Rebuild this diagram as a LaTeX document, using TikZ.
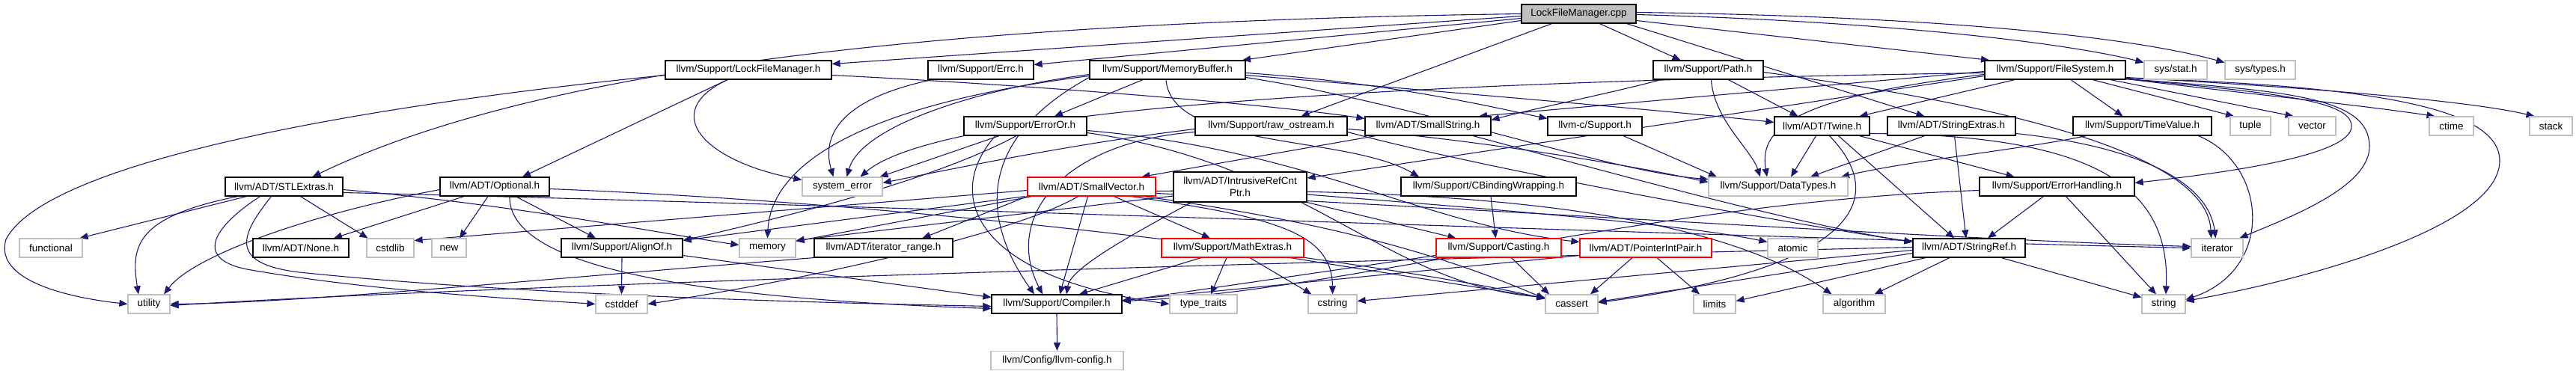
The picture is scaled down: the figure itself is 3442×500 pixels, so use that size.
\documentclass[tikz,border=0pt]{standalone}
\usepackage{fontspec}
\setmainfont{Liberation Sans}
\usetikzlibrary{arrows.meta}
\definecolor{edgec}{HTML}{191970}
\definecolor{greyb}{HTML}{BFBFBF}
\pgfdeclarelayer{bglayer}
\pgfdeclarelayer{edgelayer}
\pgfsetlayers{bglayer,edgelayer,main}
\begin{document}
\begin{tikzpicture}[x=1pt,y=-1pt,
  nb/.style={draw=black, fill=white, line width=1.2pt, inner sep=0pt, minimum height=25pt,
             font=\fontsize{13.5pt}{16pt}\selectfont, align=center},
  gb/.style={nb, draw=greyb},
  rb/.style={nb, draw=red},
  e/.style={draw=edgec, line width=1.1pt, -{Triangle[length=11pt,width=9pt]}}]
\begin{pgfonlayer}{bglayer}
\fill[white] (0,0) rectangle (3442,500);
\end{pgfonlayer}
\useasboundingbox (0,0) rectangle (3442,500);
% row 0
\node[nb, fill=greyb, minimum width=153pt] (cpp) at (2109.5,18.5) {LockFileManager.cpp};
% row 1
\node[nb, minimum width=222pt] (lfmh) at (1000,93.5) {llvm/Support/LockFileManager.h};
\node[nb, minimum width=141pt] (errc) at (1310.5,93.5) {llvm/Support/Errc.h};
\node[nb, minimum width=208pt] (membuf) at (1560,93.5) {llvm/Support/MemoryBuffer.h};
\node[nb, minimum width=147pt] (path) at (2282.5,93.5) {llvm/Support/Path.h};
\node[nb, minimum width=188pt] (fs) at (2746,93.5) {llvm/Support/FileSystem.h};
\node[gb, minimum width=84pt] (sysstat) at (2907,93.5) {sys/stat.h};
\node[gb, minimum width=94pt] (systypes) at (3020,93.5) {sys/types.h};
% row 2
\node[nb, minimum width=164pt] (erroror) at (1370,168.5) {llvm/Support/ErrorOr.h};
\node[nb, minimum width=203pt] (rawos) at (1698.5,168.5) {llvm/Support/raw\_ostream.h};
\node[nb, minimum width=168pt] (smallstr) at (1908,168.5) {llvm/ADT/SmallString.h};
\node[nb, minimum width=126pt] (csupport) at (2131,168.5) {llvm-c/Support.h};
\node[nb, minimum width=127pt] (twine) at (2434.5,168.5) {llvm/ADT/Twine.h};
\node[nb, minimum width=171pt] (strext) at (2607.5,168.5) {llvm/ADT/StringExtras.h};
\node[nb, minimum width=185pt] (timeval) at (2862.5,168.5) {llvm/Support/TimeValue.h};
\node[gb, minimum width=54pt] (tuple) at (3007,168.5) {tuple};
\node[gb, minimum width=63pt] (vector) at (3089.5,168.5) {vector};
\node[gb, minimum width=59pt] (ctime) at (3275.5,168.5) {ctime};
\node[gb, minimum width=57pt] (stack) at (3408.5,168.5) {stack};
% row 3
\node[nb, minimum width=157pt] (stlext) at (379.5,249.5) {llvm/ADT/STLExtras.h};
\node[nb, minimum width=146pt] (optional) at (661,249.5) {llvm/ADT/Optional.h};
\node[gb, minimum width=107pt] (syserr) at (1125.5,249.5) {system\_error};
\node[rb, minimum width=171pt] (smallvec) at (1458.5,249.5) {llvm/ADT/SmallVector.h};
\node[nb, minimum width=178pt, minimum height=40pt] (irc) at (1657,250) {llvm/ADT/IntrusiveRefCnt\\Ptr.h};
\node[nb, minimum width=234pt] (cbind) at (1989,249.5) {llvm/Support/CBindingWrapping.h};
\node[gb, minimum width=186pt] (datatypes) at (2376,249.5) {llvm/Support/DataTypes.h};
\node[nb, minimum width=207pt] (errh) at (2748.5,249.5) {llvm/Support/ErrorHandling.h};
% row 4
\node[gb, minimum width=84pt] (functional) at (68,331.5) {functional};
\node[nb, minimum width=128pt] (none) at (402,331.5) {llvm/ADT/None.h};
\node[gb, minimum width=63pt] (cstdlib) at (521.5,331.5) {cstdlib};
\node[gb, minimum width=46pt] (new) at (600,331.5) {new};
\node[nb, minimum width=162pt] (alignof) at (831,331.5) {llvm/Support/AlignOf.h};
\node[gb, minimum width=75pt] (memory) at (1025.5,331.5) {memory};
\node[nb, minimum width=185pt] (itrange) at (1180.5,331.5) {llvm/ADT/iterator\_range.h};
\node[rb, minimum width=190pt] (mathext) at (1647,331.5) {llvm/Support/MathExtras.h};
\node[rb, minimum width=167pt] (casting) at (2002.5,331.5) {llvm/Support/Casting.h};
\node[rb, minimum width=176pt] (pip) at (2199,331.5) {llvm/ADT/PointerIntPair.h};
\node[gb, minimum width=67pt] (atomic) at (2395.5,331.5) {atomic};
\node[nb, minimum width=150pt] (strref) at (2631,331.5) {llvm/ADT/StringRef.h};
\node[gb, minimum width=69pt] (iterator) at (2962.5,331.5) {iterator};
% row 5
\node[gb, minimum width=56pt] (utility) at (199,406.5) {utility};
\node[gb, minimum width=69pt] (cstddef) at (830.5,406.5) {cstddef};
\node[nb, minimum width=174pt] (compiler) at (1412,406.5) {llvm/Support/Compiler.h};
\node[gb, minimum width=90pt] (typetraits) at (1608,406.5) {type\_traits};
\node[gb, minimum width=65pt] (cstring) at (1780.5,406.5) {cstring};
\node[gb, minimum width=70pt] (cassert) at (2100,406.5) {cassert};
\node[gb, minimum width=56pt] (limits) at (2291,406.5) {limits};
\node[gb, minimum width=83pt] (algorithm) at (2477.5,406.5) {algorithm};
\node[gb, minimum width=58pt] (string) at (2891,406.5) {string};
% row 6
\node[gb, minimum width=177pt] (llvmconfig) at (1412.5,482) {llvm/Config/llvm-config.h};

\begin{pgfonlayer}{edgelayer}
% cpp
\draw[e] (cpp.west) .. controls (1200,30) and (700,100) .. ([xshift=38pt]stlext.north);
\draw[e] ([yshift=-3pt]cpp.west) -- ([yshift=8pt]lfmh.east);
\draw[e] ([yshift=-6pt]cpp.west) -- ([yshift=7pt]errc.east);
\draw[e] ([yshift=-9pt]cpp.west) -- ([xshift=100pt]membuf.north);
\draw[e] ([xshift=-36pt]cpp.south) -- ([xshift=40pt]rawos.north);
\draw[e] ([xshift=28pt]cpp.south) -- ([xshift=-37pt]path.north);
\draw[e] ([xshift=64pt]cpp.south) -- ([xshift=-36pt]strext.north);
\draw[e] ([yshift=-9pt]cpp.east) -- ([xshift=-88pt]fs.north);
\draw[e] ([yshift=-1pt]cpp.east) .. controls (2500,28) and (2750,55) .. ([yshift=10pt]sysstat.west);
\draw[e] ([yshift=2pt]cpp.east) .. controls (2600,22) and (2850,50) .. ([yshift=10pt]systypes.west);
% lfm.h
\draw[e] ([xshift=-28pt]lfmh.south) -- ([xshift=37pt]optional.north);
\draw[e] ([xshift=-28pt]lfmh.south) .. controls (880,150) and (940,215) .. ([yshift=9pt]syserr.west);
\draw[e] ([yshift=-7pt]lfmh.west) .. controls (450,145) and (60,220) .. (8,320) .. controls (-10,380) and (110,400) .. (utility.west);
\draw[e] ([yshift=-7pt]lfmh.east) .. controls (1400,115) and (1700,140) .. ([yshift=10pt]smallstr.west);
% errc
\draw[e] ([xshift=-65pt]errc.south) .. controls (1110,135) and (1100,190) .. ([xshift=-12pt]syserr.north);
% memorybuffer
\draw[e] ([xshift=-33pt]membuf.south) -- ([xshift=39pt]erroror.north);
\draw[e] ([yshift=-6pt]membuf.west) .. controls (1300,120) and (1150,170) .. ([xshift=6pt]syserr.north);
\draw[e] ([yshift=-8pt]membuf.west) .. controls (1150,140) and (1030,220) .. (memory.north);
\draw[e] ([yshift=-10pt]membuf.west) .. controls (1280,200) and (1330,320) .. ([xshift=-30pt]compiler.north);
\draw[e] ([xshift=-2pt]membuf.south) .. controls (1565,200) and (1800,180) .. ([xshift=-93pt]cbind.north);
\draw[e] ([yshift=-4pt]membuf.east) .. controls (1850,110) and (1980,140) .. ([yshift=10pt]csupport.west);
\draw[e] ([yshift=-7pt]membuf.east) .. controls (1900,120) and (2250,150) .. ([yshift=5pt]twine.west);
\draw[e] ([yshift=-10pt]membuf.east) .. controls (1900,140) and (2150,230) .. ([yshift=10pt]datatypes.west);
% path
\draw[e] ([xshift=27pt]path.south) -- ([xshift=-32pt]twine.north);
\draw[e] ([xshift=4pt]path.south) .. controls (2290,160) and (2340,200) .. ([xshift=-24pt]datatypes.north);
\draw[e] ([xshift=-63pt]path.south) .. controls (2150,125) and (2050,145) .. ([yshift=8pt]smallstr.east);
\draw[e] ([yshift=-3pt]path.east) .. controls (2750,150) and (2950,220) .. ([xshift=-8pt]iterator.north);
% filesystem
\draw[e] ([xshift=21pt]fs.south) -- ([xshift=-26pt]timeval.north);
\draw[e] ([xshift=50pt]fs.south) -- ([xshift=-22pt]tuple.north);
\draw[e] ([xshift=74pt]fs.south) -- ([xshift=-25pt]vector.north);
\draw[e] ([yshift=-12pt]fs.east) .. controls (3000,125) and (3150,140) .. ([xshift=-22pt]ctime.north);
\draw[e] ([yshift=-10pt]fs.east) .. controls (3100,118) and (3300,135) .. ([xshift=-22pt]stack.north);
\draw[e] ([yshift=-12pt]fs.east) .. controls (3050,125) and (3140,135) .. (3142,168) .. controls (3144,205) and (3000,228) .. ([yshift=5pt]errh.east);
\draw[e] ([yshift=-12pt]fs.east) .. controls (3060,122) and (3165,130) .. (3166,195) .. controls (3167,250) and (3060,290) .. ([xshift=30pt]iterator.north);
\draw[e] ([yshift=-11pt]fs.east) .. controls (3200,115) and (3340,150) .. (3340,215) .. controls (3340,300) and (3100,370) .. ([yshift=4pt]string.east);
\draw[e] ([yshift=-2pt]fs.west) -- ([xshift=68pt]smallstr.north);
\draw[e] ([xshift=-54pt]fs.south) -- ([xshift=50pt]twine.north);
\draw[e] ([yshift=-6pt]fs.west) .. controls (2400,130) and (2350,170) .. ([xshift=-15pt]datatypes.north);
\draw[e] ([yshift=-8pt]fs.west) -- ([yshift=12pt]irc.east);
\draw[e] ([yshift=-4pt]fs.west) .. controls (1800,110) and (1250,150) .. ([xshift=24pt]syserr.north);
% erroror
\draw[e] ([xshift=-35pt]erroror.south) -- ([xshift=-4pt]syserr.north east);
\draw[e] ([xshift=-12pt]erroror.south) .. controls (1250,240) and (1050,290) .. ([yshift=10pt]alignof.east);
\draw[e] ([yshift=-6pt]erroror.east) .. controls (1750,200) and (1900,300) .. ([yshift=8pt]pip.west);
\draw[e] ([yshift=-9pt]erroror.east) .. controls (1750,220) and (1850,380) .. ([yshift=9pt]cassert.west);
\draw[e] ([xshift=-40pt]erroror.south) .. controls (1260,260) and (1300,370) .. (typetraits.west);
% raw_ostream
\draw[e] ([yshift=-4pt]rawos.west) .. controls (1450,190) and (1300,220) .. ([yshift=5pt]syserr.east);
\draw[e] ([yshift=-8pt]rawos.west) .. controls (1420,190) and (1340,290) .. ([xshift=-19pt]compiler.north);
\draw[e] ([yshift=-8pt]rawos.east) .. controls (2000,230) and (2400,300) .. ([yshift=8pt]strref.west);
\draw[e] ([yshift=-4pt]rawos.east) .. controls (1950,185) and (2150,215) .. ([yshift=6pt]datatypes.west);
% smallstring
\draw[e] ([xshift=-70pt]smallstr.south) -- ([xshift=67pt]smallvec.north);
\draw[e] ([xshift=60pt]smallstr.south) .. controls (2150,230) and (2400,300) .. ([yshift=8pt]strref.west);
% llvm-c
\draw[e] ([xshift=38pt]csupport.south) -- ([xshift=-82pt]datatypes.north);
% twine
\draw[e] ([xshift=-8pt]twine.south) -- ([xshift=17pt]datatypes.north);
\draw[e] ([xshift=22pt]twine.south) -- ([xshift=-20pt]strref.north);
\draw[e] ([xshift=50pt]twine.south) -- ([xshift=-57pt]errh.north);
\draw[e] ([xshift=10pt]twine.south) .. controls (2530,270) and (2470,360) .. ([yshift=2pt]cassert.east);
\draw[e] ([yshift=-10pt]twine.east) .. controls (2800,180) and (2900,250) .. ([xshift=3pt]string.north);
% stringextras
\draw[e] ([xshift=-36pt]strext.south) -- ([xshift=43pt]datatypes.north);
\draw[e] ([xshift=4pt]strext.south) -- ([xshift=-4pt]strref.north);
\draw[e] ([yshift=-10pt]strext.east) .. controls (2850,195) and (2950,240) .. ([xshift=-2pt]iterator.north);
% timevalue
\draw[e] ([xshift=-75pt]timeval.south) .. controls (2700,200) and (2550,215) .. ([xshift=84pt]datatypes.north);
\draw[e] ([xshift=75pt]timeval.south) .. controls (3030,220) and (3040,360) .. ([yshift=6pt]string.east);
% errorhandling
\draw[e] ([xshift=-18pt]errh.south) -- ([xshift=25pt]strref.north);
\draw[e] ([xshift=12pt]errh.south) -- ([xshift=-10pt]string.north);
\draw[e] ([yshift=-5pt]errh.west) .. controls (2200,270) and (1800,390) .. ([yshift=4pt]compiler.east);
% stlextras
\draw[e] ([xshift=-50pt]stlext.south) -- ([xshift=-4pt]functional.north east);
\draw[e] ([xshift=-62pt]stlext.south) .. controls (180,290) and (175,330) .. ([xshift=-14pt]utility.north);
\draw[e] ([xshift=22pt]stlext.south) -- ([xshift=-30pt]cstdlib.north);
\draw[e] ([xshift=-32pt]stlext.south) .. controls (290,300) and (255,345) .. (330,360) .. controls (500,390) and (700,400) .. (cstddef.west);
\draw[e] ([xshift=-17pt]stlext.south) .. controls (325,310) and (300,352) .. (400,364) .. controls (700,395) and (1100,405) .. ([yshift=-3pt]compiler.west);
\draw[e] ([yshift=-4pt]stlext.east) .. controls (700,275) and (900,315) .. ([yshift=4pt]memory.west);
\draw[e] ([yshift=-8pt]stlext.east) .. controls (1200,275) and (2400,320) .. (iterator.west);
% optional
\draw[e] ([xshift=-41pt]optional.south) -- ([xshift=44pt]none.north);
\draw[e] ([xshift=-9pt]optional.south) -- ([xshift=14pt]new.north);
\draw[e] ([yshift=-4pt]optional.west) .. controls (420,285) and (260,340) .. ([xshift=20pt]utility.north);
\draw[e] ([xshift=28pt]optional.south) -- ([xshift=-35pt]alignof.north);
\draw[e] ([xshift=20pt]optional.south) .. controls (680,330) and (800,395) .. ([yshift=-6pt]compiler.west);
\draw[e] ([yshift=-3pt]optional.east) .. controls (1300,275) and (1900,360) .. ([yshift=7pt]cassert.west);
% alignof
\draw[e] (alignof.south) -- (cstddef.north);
\draw[e] ([yshift=-10pt]alignof.east) -- ([yshift=9pt]compiler.west);
% iterator_range
\draw[e] (itrange.south west) .. controls (700,375) and (400,405) .. (utility.east);
% smallvector
\draw[e] (smallvec.south west) -- ([xshift=52pt]itrange.north);
\draw[e] ([xshift=-3pt]smallvec.south west) -- ([yshift=10pt]alignof.east);
\draw[e] ([xshift=6pt]smallvec.south west) -- ([yshift=9pt]memory.east);
\draw[e] ([xshift=-5pt]smallvec.south) -- ([xshift=4pt]compiler.north);
\draw[e] ([xshift=-18pt]smallvec.south) .. controls (1360,310) and (1100,370) .. (cstddef.east);
\draw[e] ([yshift=-5pt]smallvec.west) -- ([yshift=10pt]cstdlib.east);
\draw[e] ([xshift=30pt]smallvec.south) -- ([xshift=-30pt]mathext.north);
\draw[e] ([xshift=53pt]smallvec.south) .. controls (1700,290) and (1780,310) .. (cstring.north);
\draw[e] ([xshift=70pt]smallvec.south) .. controls (1800,300) and (1950,350) .. ([yshift=7pt]cassert.west);
\draw[e] ([yshift=-6pt]smallvec.east) .. controls (2000,250) and (2300,290) .. ([xshift=-30pt]algorithm.north);
\draw[e] ([yshift=-9pt]smallvec.east) .. controls (2000,280) and (2600,320) .. ([yshift=2pt]iterator.west);
% intrusiverefcntptr
\draw[e] (irc.south east) -- ([xshift=-57pt]casting.north);
\draw[e] ([yshift=-10pt]irc.east) .. controls (2000,280) and (2250,300) .. ([yshift=8pt]atomic.west);
\draw[e] ([yshift=-12pt]irc.west) -- ([yshift=10pt]memory.east);
\draw[e] ([xshift=-65pt]irc.south) .. controls (1500,320) and (1430,360) .. ([xshift=13pt]compiler.north);
% cbindingwrapping
\draw[e] ([xshift=3pt]cbind.south) -- ([xshift=-4pt]casting.north);
% mathextras
\draw[e] ([xshift=-8pt]mathext.south) -- ([xshift=10pt]typetraits.north);
\draw[e] ([xshift=23pt]mathext.south) -- ([xshift=-28pt]cstring.north);
\draw[e] ([xshift=77pt]mathext.south) -- ([yshift=8pt]cassert.west);
\draw[e] ([xshift=-42pt]mathext.south) -- ([xshift=30pt]compiler.north);
% casting
\draw[e] ([xshift=17pt]casting.south) -- ([xshift=-30pt]cassert.north);
\draw[e] ([yshift=-10pt]casting.west) -- ([yshift=4pt]compiler.east);
% pointerintpair
\draw[e] ([xshift=-18pt]pip.south) -- ([xshift=25pt]cassert.north);
\draw[e] ([xshift=15pt]pip.south) -- ([xshift=-20pt]limits.north);
\draw[e] ([yshift=-10pt]pip.west) -- ([yshift=5pt]compiler.east);
% stringref
\draw[e] ([xshift=-26pt]strref.south) -- ([xshift=27pt]algorithm.north);
\draw[e] ([xshift=-58pt]strref.south) -- ([yshift=4pt]limits.east);
\draw[e] ([yshift=-7pt]strref.west) -- ([yshift=3pt]cassert.east);
\draw[e] ([yshift=-3pt]strref.west) -- ([yshift=4pt]cstring.east);
\draw[e] ([yshift=1pt]strref.west) .. controls (1500,355) and (600,385) .. ([yshift=-2pt]utility.east);
\draw[e] ([xshift=43pt]strref.south) -- ([yshift=9pt]string.west);
% compiler
\draw[e] (compiler.south) -- (llvmconfig.north);
\end{pgfonlayer}
\end{tikzpicture}
\end{document}
